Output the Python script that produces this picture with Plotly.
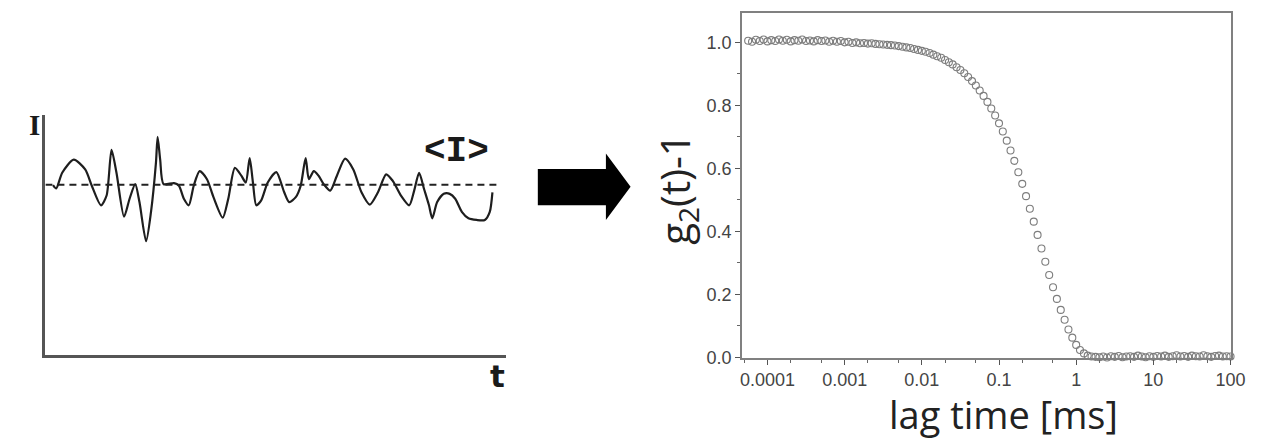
import plotly.graph_objects as go

W, H = 1286, 446

# ---------------- left panel: intensity trace (arbitrary units) ----------------
trace_t = [7.7, 11, 17, 28.7, 40.3, 47, 56.3, 62, 67, 72, 79.7, 85.3, 91, 95.3, 102, 107,
           112, 113.7, 116.3, 119.7, 130.3, 135.3, 140.3, 145.3, 150.3, 156.3, 163.7, 170.3,
           179.7, 185.3, 192, 198.7, 203, 207, 210.3, 213.7, 218.7, 225.3, 234, 242, 247,
           253.7, 258.7, 263.7, 267, 272, 277, 282, 288.7, 295.3, 303.7, 312, 320.3, 328.7,
           337, 345.3, 352, 360.3, 368.7, 373.7, 378.7, 383.7, 388.7, 392, 397, 403.7, 409.7,
           415.3, 422, 428.7, 437, 445.3, 450.3, 453]
trace_I = [173.7, 170.3, 186.3, 199.7, 189.7, 173, 153, 163, 209.7, 186.3, 141.3, 159.7,
           174.7, 156.3, 116.3, 146.3, 196.3, 223, 199.7, 174.7, 175.7, 173, 159.7, 153, 173,
           188, 179.7, 161.3, 140.3, 159.7, 191.3, 183, 176.3, 201.3, 176.3, 153, 158, 176.3,
           187, 166.3, 156.3, 161.3, 173, 201.3, 179.7, 188, 183, 174.7, 168, 183, 200.7,
           189.7, 166.3, 153.7, 166.3, 184.7, 178, 163, 153, 168, 186.3, 169.7, 153, 139.7,
           156.3, 164.7, 164.7, 159.7, 146.3, 139.7, 138, 138, 146.3, 166.3]
mean_I = 174
mean_t_span = [0, 457]

# ---------------- right panel: correlation function ----------------
lag_ms = [
    5.62e-5, 6.31e-5, 7.08e-5, 7.94e-5, 8.91e-5,
    1.00e-4, 1.12e-4, 1.26e-4, 1.41e-4, 1.58e-4, 1.78e-4, 2.00e-4, 2.24e-4, 2.51e-4, 2.82e-4,
    3.16e-4, 3.55e-4, 3.98e-4, 4.47e-4, 5.01e-4, 5.62e-4, 6.31e-4, 7.08e-4, 7.94e-4, 8.91e-4,
    1.00e-3, 1.12e-3, 1.26e-3, 1.41e-3, 1.58e-3, 1.78e-3, 2.00e-3, 2.24e-3, 2.51e-3, 2.82e-3,
    3.16e-3, 3.55e-3, 3.98e-3, 4.47e-3, 5.01e-3, 5.62e-3, 6.31e-3, 7.08e-3, 7.94e-3, 8.91e-3,
    0.0100, 0.0112, 0.0126, 0.0141, 0.0158, 0.0178, 0.0200, 0.0224, 0.0251, 0.0282,
    0.0316, 0.0355, 0.0398, 0.0447, 0.0501, 0.0562, 0.0631, 0.0708, 0.0794, 0.0891,
    0.100, 0.112, 0.126, 0.141, 0.158, 0.178, 0.200, 0.224, 0.251, 0.282,
    0.316, 0.355, 0.398, 0.447, 0.501, 0.562, 0.631, 0.708, 0.794, 0.891,
    1.00, 1.12, 1.26, 1.41, 1.58, 1.78, 2.00, 2.24, 2.51, 2.82,
    3.16, 3.55, 3.98, 4.47, 5.01, 5.62, 6.31, 7.08, 7.94, 8.91,
    10.0, 11.2, 12.6, 14.1, 15.8, 17.8, 20.0, 22.4, 25.1, 28.2,
    31.6, 35.5, 39.8, 44.7, 50.1, 56.2, 63.1, 70.8, 79.4, 89.1,
    100.0]
g2_minus_1 = [
    1.005, 1.002, 1.008, 1.004, 1.009,
    1.003, 1.007, 1.004, 1.009, 1.005, 1.008, 1.003, 1.007, 1.005, 1.009,
    1.004, 1.006, 1.003, 1.007, 1.004, 1.006, 1.002, 1.005, 1.002, 1.004,
    1.000, 1.002, 0.998, 1.000, 0.997, 0.998, 0.996, 0.997, 0.995, 0.994,
    0.993, 0.992, 0.991, 0.990, 0.988, 0.986, 0.984, 0.982, 0.979, 0.976,
    0.973, 0.970, 0.966, 0.961, 0.956, 0.951, 0.944, 0.937, 0.930, 0.921,
    0.912, 0.902, 0.890, 0.877, 0.863, 0.847, 0.830, 0.811, 0.790, 0.768,
    0.743, 0.717, 0.688, 0.657, 0.624, 0.588, 0.551, 0.512, 0.472, 0.431,
    0.389, 0.346, 0.304, 0.262, 0.223, 0.186, 0.151, 0.120, 0.089, 0.063,
    0.040, 0.024, 0.013, 0.006, 0.003, 0.002, 0.001, 0.003, 0.000, 0.004,
    0.002, 0.005, 0.001, 0.003, 0.004, 0.002, 0.006, 0.003, 0.001, 0.004,
    0.002, 0.005, 0.003, 0.006, 0.002, 0.004, 0.007, 0.003, 0.005, 0.002,
    0.006, 0.004, 0.003, 0.007, 0.004, 0.002, 0.005, 0.006, 0.003, 0.004,
    0.003]

x_tick_vals = [0.0001, 0.001, 0.01, 0.1, 1, 10, 100]
x_tick_text = ["0.0001", "0.001", "0.01", "0.1", "1", "10", "100"]
y_tick_vals = [0.0, 0.2, 0.4, 0.6, 0.8, 1.0]
y_tick_text = ["0.0", "0.2", "0.4", "0.6", "0.8", "1.0"]


def px_x(p):
    return p / W


def px_y(p):
    return 1 - p / H


fig = go.Figure()

# left panel
fig.add_trace(go.Scatter(x=trace_t, y=trace_I, mode="lines",
                         line=dict(color="#1e1e1e", width=2.2, shape="spline", smoothing=0.7),
                         xaxis="x2", yaxis="y2", showlegend=False, hoverinfo="skip"))
fig.add_trace(go.Scatter(x=mean_t_span, y=[mean_I, mean_I], mode="lines",
                         line=dict(color="#222", width=2, dash="7px,5px"),
                         xaxis="x2", yaxis="y2", showlegend=False, hoverinfo="skip"))

# right panel
fig.add_trace(go.Scatter(x=lag_ms, y=g2_minus_1, mode="markers",
                         marker=dict(symbol="circle-open", size=7, color="#7d7d7d",
                                     line=dict(width=1.1, color="#7d7d7d")),
                         cliponaxis=False, showlegend=False))

tick_font = dict(family="Liberation Sans, Arial", size=18, color="#444")


def ann(text, x, y, size, family, color="#1a1a1a", angle=0):
    return dict(text=text, x=px_x(x), y=px_y(y), xref="paper", yref="paper",
                xanchor="center", yanchor="middle", showarrow=False, textangle=angle,
                font=dict(family=family, size=size, color=color))


fig.update_layout(
    width=W, height=H,
    margin=dict(l=0, r=0, t=0, b=0),
    paper_bgcolor="white", plot_bgcolor="white",
    xaxis=dict(type="log", domain=[px_x(750), px_x(1245)], range=[-4.329, 2.0],
               anchor="y", tickvals=x_tick_vals, ticktext=x_tick_text,
               ticks="outside", ticklen=5, tickwidth=1.2, tickcolor="#555",
               minor=dict(ticks="outside", ticklen=3, tickwidth=1, tickcolor="#666",
                          showgrid=False),
               showline=True, mirror=True, linecolor="#808080", linewidth=2,
               showgrid=False, zeroline=False, tickfont=tick_font),
    yaxis=dict(domain=[px_y(365.7), px_y(13)], range=[0, 1.094], anchor="x",
               tickvals=y_tick_vals, ticktext=y_tick_text,
               ticks="outside", ticklen=5, tickwidth=1.2, tickcolor="#555",
               minor=dict(ticks="outside", ticklen=3, tickwidth=1, tickcolor="#666",
                          dtick=0.1, showgrid=False),
               showline=True, mirror=True, linecolor="#808080", linewidth=2,
               showgrid=False, zeroline=False, tickfont=tick_font),
    xaxis2=dict(domain=[px_x(44), px_x(511)], range=[0, 467], anchor="y2",
                showline=True, linecolor="#555", linewidth=2.5,
                showticklabels=False, ticks="", showgrid=False, zeroline=False),
    yaxis2=dict(domain=[px_y(363), px_y(118)], range=[0, 245], anchor="x2",
                showline=True, linecolor="#555", linewidth=2.5,
                showticklabels=False, ticks="", showgrid=False, zeroline=False),
    shapes=[
        dict(type="path", xref="paper", yref="paper",
             path=("M {a},{b} L {c},{b} L {c},{d} L {e},{f} L {c},{g} L {c},{h} L {a},{h} Z"
                   .format(a=px_x(543), b=px_y(173), c=px_x(612), d=px_y(157),
                           e=px_x(637), f=px_y(191), g=px_y(225), h=px_y(210))),
             fillcolor="black", line=dict(width=0)),
    ],
    annotations=[
        ann("<b>I</b>", 33, 128, 29, "Liberation Serif, Times New Roman"),
        ann("<b>&lt;I&gt;</b>", 461, 155, 36, "Liberation Mono, Courier New"),
        ann("<b>t</b>", 502, 385, 31, "DejaVu Sans, Arial"),
        ann("g<sub>2</sub>(t)-1", 684, 193, 40, "Open Sans", color="#222", angle=-90),
        ann("lag time [ms]", 1015, 424, 38, "Open Sans", color="#222"),
    ],
)

fig.write_html("out.html")
